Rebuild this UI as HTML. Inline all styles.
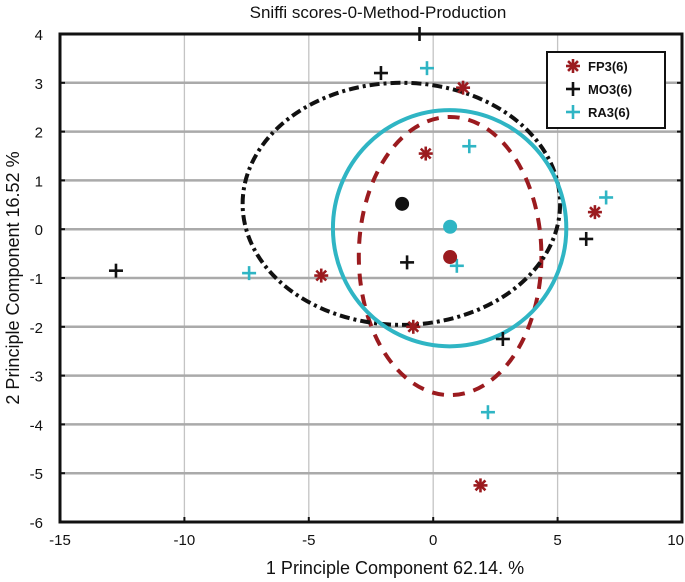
<!DOCTYPE html>
<html><head><meta charset="utf-8"><style>
body{margin:0;background:#fff;}
svg{display:block;font-family:"Liberation Sans",sans-serif;}
</style></head><body>
<svg id="chart" width="685" height="582" viewBox="0 0 685 582">
<text x="378" y="18" text-anchor="middle" font-size="17" fill="#111">Sniffi scores-0-Method-Production</text>
<text x="395" y="574" text-anchor="middle" font-size="18" fill="#111">1 Principle Component 62.14. %</text>
<text transform="translate(19,278) rotate(-90)" text-anchor="middle" font-size="18" fill="#111">2 Principle Component 16.52 %</text>
<g id="grid"></g><g id="ells"></g><g id="pts"></g>
<g>
<rect x="547" y="52" width="118" height="76" fill="#fff" stroke="#111" stroke-width="2"></rect>
<g id="leg"></g>
</g>
</svg>
<script>
const xTicks=[-15,-10,-5,0,5,10];
const yTicks=[-6,-5,-4,-3,-2,-1,0,1,2,3,4];
const groups=["FP3(6)","MO3(6)","RA3(6)"];
const colors=["#9b1b1f","#111111","#2fb5c4"];
const fpX=[1.2,-0.3,6.5,-4.5,-0.8,1.9];
const fpY=[2.9,1.55,0.35,-0.95,-2.0,-5.25];
const moX=[-0.55,-2.1,6.15,-12.75,-1.05,2.8];
const moY=[4.0,3.2,-0.2,-0.85,-0.68,-2.25];
const raX=[-0.25,1.45,6.95,-7.4,0.95,2.2];
const raY=[3.3,1.7,0.65,-0.9,-0.75,-3.75];
const centX=[0.68,-1.25,0.68];
const centY=[-0.57,0.52,0.05];
const ellCx=[0.68,-1.28,0.66];
const ellCy=[-0.55,0.52,0.02];
const ellRx=[3.67,6.38,4.69];
const ellRy=[2.85,2.48,2.42];
const X0=60,X1=682,Y0=34,Y1=522;
const sx=v=>X0+(v+15)/25*(X1-X0);
const sy=v=>Y0+(4-v)/10*(Y1-Y0);
const NS="http://www.w3.org/2000/svg";
function mk(tag,attrs,parent){const e=document.createElementNS(NS,tag);for(const k in attrs)e.setAttribute(k,attrs[k]);parent.appendChild(e);return e;}
const grid=document.getElementById('grid');
xTicks.forEach((t,i)=>{
 const g=mk('line',{x1:sx(t),x2:sx(t),y1:Y0,y2:Y1,stroke:'#c4c4c4','stroke-width':1.3},grid);
 
 
 const tk=mk('line',{x1:sx(t),x2:sx(t),y1:Y1-5,y2:Y1,stroke:'#111','stroke-width':2},grid);
 
 
 const last=i===xTicks.length-1;
 const l=mk('text',{x:last?684:sx(t),y:545,'text-anchor':last?'end':'middle','font-size':15,fill:'#111'},grid);
 l.textContent=t;
 
 
});
yTicks.forEach(t=>{
 const g=mk('line',{x1:X0,x2:X1,y1:sy(t),y2:sy(t),stroke:'#aaa','stroke-width':2.5},grid);
 
 
 const tk=mk('line',{x1:X0,x2:X0+5,y1:sy(t),y2:sy(t),stroke:'#111','stroke-width':2},grid);
 
 
 const tk2=mk('line',{x1:X1-5,x2:X1,y1:sy(t),y2:sy(t),stroke:'#111','stroke-width':2},grid);
 
 
 const l=mk('text',{x:43,y:sy(t)+6,'text-anchor':'end','font-size':15,fill:'#111'},grid);
 l.textContent=t;
 
 
});
const frame=mk('rect',{x:X0,y:Y0,width:X1-X0,height:Y1-Y0,fill:'none',stroke:'#111','stroke-width':3},grid);


const ells=document.getElementById('ells');
const dashes=['12,9','10,4,3,4','none'];
const ewidth=[4,4,4];
for(let i=0;i<3;i++){
 const e=mk('ellipse',{cx:sx(ellCx[i]),cy:sy(ellCy[i]),rx:ellRx[i]*(X1-X0)/25,ry:ellRy[i]*(Y1-Y0)/10,fill:'none',stroke:colors[i],'stroke-width':ewidth[i],'stroke-dasharray':dashes[i]},ells);
 
 
}
const pts=document.getElementById('pts');
function star(x,y,c,parent){
 const g=mk('g',{stroke:c,'stroke-width':2.6},parent);
 for(let a=0;a<4;a++){const ang=a*Math.PI/4,r=7;mk('line',{x1:x-r*Math.cos(ang),y1:y-r*Math.sin(ang),x2:x+r*Math.cos(ang),y2:y+r*Math.sin(ang)},g);}
 return g;
}
function plus(x,y,c,parent){
 const g=mk('g',{stroke:c,'stroke-width':2.6},parent);
 mk('line',{x1:x-7,x2:x+7,y1:y,y2:y},g);mk('line',{x1:x,x2:x,y1:y-7,y2:y+7},g);
 return g;
}
fpX.forEach((v,i)=>{const g=star(sx(v),sy(fpY[i]),colors[0],pts);
 
 });
moX.forEach((v,i)=>{const g=plus(sx(v),sy(moY[i]),colors[1],pts);
 
 });
raX.forEach((v,i)=>{const g=plus(sx(v),sy(raY[i]),colors[2],pts);
 
 });
centX.forEach((v,i)=>{const c=mk('circle',{cx:sx(v),cy:sy(centY[i]),r:7,fill:colors[i]},pts);
 
 });
const leg=document.getElementById('leg');
groups.forEach((gname,i)=>{
 const y=66+i*23;
 const m=i===0?star(573,y,colors[0],leg):plus(573,y,colors[i],leg);
 
 
 const t=mk('text',{x:588,y:y+5,'font-size':13,'font-weight':'bold',fill:'#111'},leg);
 t.textContent=gname;
 
 
});
</script>
</body></html>
